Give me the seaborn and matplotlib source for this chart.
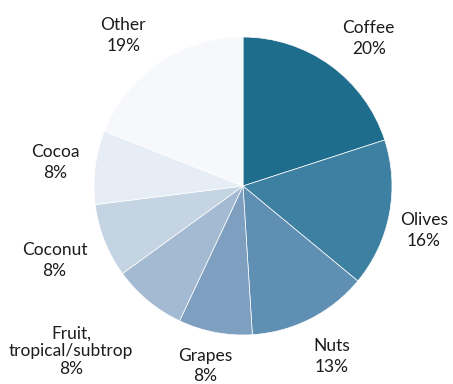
import numpy as np
import seaborn as sns
import matplotlib.pyplot as plt

# --- data ---
CROPS = ['Coffee', 'Olives', 'Nuts', 'Grapes', 'Fruit,\ntropical/subtrop',
         'Coconut', 'Cocoa', 'Other']
SHARES = [20, 16, 13, 8, 8, 8, 8, 19]

# colours (dark teal -> almost white)
COLORS = ['#1f6d8d', '#3e80a2', '#5f8fb2', '#7e9fc0', '#a3bad2',
          '#c5d4e2', '#e6edf4', '#f6f8fb']
# label placement: distance (in pie radii) and angular nudge (deg) from wedge middle
LABEL_DIST = [1.30, 1.25, 1.29, 1.235, 1.60, 1.36, 1.27, 1.29]
LABEL_NUDGE = [-4.5, -3.0, 0.5, -1.0, -6.5, 0.0, 0.0, 4.3]
LINE_SP = [1.35, 1.35, 1.35, 1.35, 1.1, 1.35, 1.35, 1.35]

sns.set_theme(style='white')
plt.rcParams['font.family'] = ['Lato', 'DejaVu Sans']

W, H, DPI = 453, 384, 100
fig = plt.figure(figsize=(W / DPI, H / DPI), dpi=DPI)
ax = fig.add_axes([0, 0, 1, 1])

palette = sns.color_palette(COLORS)
wedges, _ = ax.pie(SHARES, colors=palette, startangle=90, counterclock=False,
                   radius=1.0,
                   wedgeprops=dict(edgecolor='white', linewidth=0.5))

total = sum(SHARES)
for w, name, val, d, nudge, ls in zip(wedges, CROPS, SHARES, LABEL_DIST,
                                      LABEL_NUDGE, LINE_SP):
    mid = np.deg2rad((w.theta1 + w.theta2) / 2 + nudge)
    ax.text(d * np.cos(mid), d * np.sin(mid), f'{name}\n{val / total * 100:.0f}%',
            ha='center', va='center', fontsize=12.5, color='#1c1c1c',
            linespacing=ls)

# pie centre at (243, 186) px from top-left, radius 149 px
R, CX, CY = 149, 243, H - 186
ax.set_xlim(-CX / R, (W - CX) / R)
ax.set_ylim(-CY / R, (H - CY) / R)
ax.set_aspect('auto')
ax.axis('off')

fig.savefig('out.png', dpi=DPI, facecolor='white')
